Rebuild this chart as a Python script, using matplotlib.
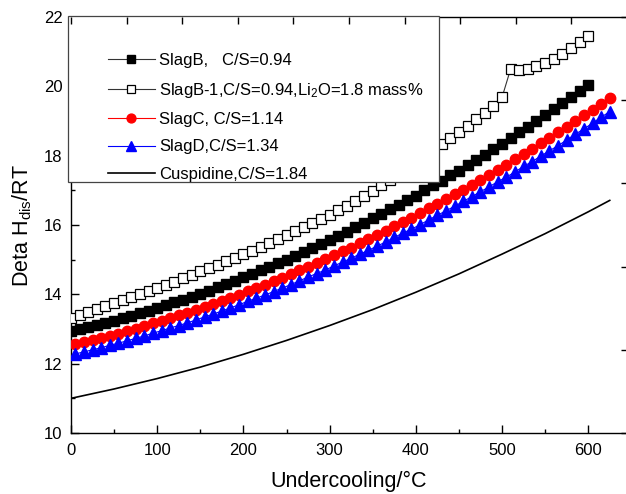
import numpy as np
import matplotlib
matplotlib.use("Agg")
import matplotlib.pyplot as plt
from matplotlib.patches import Rectangle
from matplotlib.ticker import MultipleLocator

plt.rcParams['font.family'] = ['Liberation Sans', 'DejaVu Sans']
plt.rcParams['mathtext.fontset'] = 'custom'
plt.rcParams['mathtext.rm'] = 'Liberation Sans'
plt.rcParams['mathtext.it'] = 'Liberation Sans:italic'

# ---------------- data ----------------
x_slagB = np.arange(0, 601, 10)
slagB = [12.93, 12.99, 13.05, 13.11, 13.18, 13.24, 13.31, 13.38, 13.45, 13.53,
         13.61, 13.68, 13.77, 13.85, 13.93, 14.02, 14.11, 14.20, 14.29, 14.39,
         14.49, 14.58, 14.69, 14.79, 14.89, 15.00, 15.11, 15.22, 15.34, 15.45,
         15.57, 15.69, 15.81, 15.93, 16.06, 16.19, 16.32, 16.45, 16.58, 16.72,
         16.85, 17.00, 17.14, 17.28, 17.43, 17.57, 17.72, 17.88, 18.03, 18.19,
         18.35, 18.51, 18.67, 18.83, 19.00, 19.17, 19.34, 19.51, 19.68, 19.86,
         20.04]

x_slagB1 = np.arange(0, 601, 10)
slagB1 = [13.33, 13.41, 13.50, 13.58, 13.67, 13.75, 13.84, 13.92, 14.01, 14.09,
          14.18, 14.27, 14.37, 14.46, 14.56, 14.66, 14.75, 14.85, 14.95, 15.05,
          15.15, 15.26, 15.37, 15.48, 15.60, 15.71, 15.83, 15.94, 16.06, 16.18,
          16.30, 16.43, 16.56, 16.69, 16.83, 16.98, 17.14, 17.30, 17.46, 17.63,
          17.80, 17.97, 18.15, 18.33, 18.51, 18.69, 18.87, 19.05, 19.24, 19.43,
          19.68, 20.50, 20.47, 20.49, 20.58, 20.68, 20.79, 20.94, 21.10, 21.27,
          21.45]

x_slagC = np.arange(5, 626, 10)
slagC = [12.56, 12.62, 12.68, 12.74, 12.81, 12.87, 12.94, 13.01, 13.08, 13.16,
         13.23, 13.31, 13.39, 13.47, 13.55, 13.64, 13.72, 13.81, 13.90, 13.99,
         14.09, 14.18, 14.28, 14.38, 14.48, 14.58, 14.69, 14.80, 14.90, 15.01,
         15.13, 15.24, 15.35, 15.47, 15.59, 15.71, 15.83, 15.96, 16.09, 16.21,
         16.34, 16.48, 16.61, 16.75, 16.88, 17.02, 17.16, 17.31, 17.45, 17.60,
         17.74, 17.89, 18.05, 18.20, 18.36, 18.51, 18.67, 18.83, 19.00, 19.16,
         19.33, 19.50, 19.67]

x_slagD = np.arange(5, 626, 10)
slagD = [12.28, 12.34, 12.40, 12.46, 12.53, 12.59, 12.66, 12.73, 12.80, 12.88,
         12.95, 13.03, 13.10, 13.18, 13.26, 13.35, 13.43, 13.52, 13.61, 13.70,
         13.80, 13.89, 13.98, 14.08, 14.18, 14.28, 14.39, 14.50, 14.60, 14.70,
         14.82, 14.93, 15.04, 15.16, 15.27, 15.39, 15.51, 15.64, 15.77, 15.88,
         16.01, 16.15, 16.28, 16.41, 16.54, 16.68, 16.82, 16.96, 17.10, 17.25,
         17.38, 17.53, 17.69, 17.83, 17.99, 18.14, 18.29, 18.45, 18.62, 18.77,
         18.94, 19.11, 19.27]

x_cusp = [0, 50, 100, 150, 200, 250, 300, 350, 400, 450, 500, 550, 600, 625]
cusp = [11.00, 11.27, 11.57, 11.90, 12.27, 12.67, 13.10, 13.56, 14.06, 14.59,
        15.16, 15.75, 16.38, 16.71]

labels = ["SlagB,   C/S=0.94",
          "SlagB-1,C/S=0.94,Li$_2$O=1.8 mass%",
          "SlagC, C/S=1.14",
          "SlagD,C/S=1.34",
          "Cuspidine,C/S=1.84"]

# ---------------- figure ----------------
W, H = 626, 494
fig = plt.figure(figsize=(W / 100, H / 100), dpi=100)
L, R, T, B = 71, 627, 17, 433
ax = fig.add_axes([L / W, 1 - B / H, (R - L) / W, (B - T) / H])

ax.plot(x_slagB, slagB, color='#333333', lw=0.8, marker='s', ms=7.2,
        mfc='black', mec='black', label=labels[0], zorder=3)
ax.plot(x_slagB1, slagB1, color='#333333', lw=0.8, marker='s', ms=6.8,
        mfc='white', mec='black', mew=0.9, label=labels[1], zorder=3)
ax.plot(x_slagC, slagC, color='red', lw=0.8, marker='o', ms=7.5,
        mfc='red', mec='red', label=labels[2], zorder=3)
ax.plot(x_slagD, slagD, color='blue', lw=0.8, marker='^', ms=8.0,
        mfc='blue', mec='blue', label=labels[3], zorder=3)
ax.plot(x_cusp, cusp, color='black', lw=1.2, label=labels[4], zorder=3)

ax.set_xlim(0, 645)
ax.set_ylim(10, 22)
ax.xaxis.set_major_locator(MultipleLocator(100))
ax.xaxis.set_minor_locator(MultipleLocator(50))
ax.yaxis.set_major_locator(MultipleLocator(2))
ax.yaxis.set_minor_locator(MultipleLocator(1))
ax.tick_params(which='both', direction='in', top=False, right=False,
               labelsize=12, width=1.0)
ax.tick_params(which='major', length=6)
ax.tick_params(which='minor', length=3)
ax.tick_params(axis='x', pad=7)
ax.tick_params(axis='y', pad=6)
for s in ax.spines.values():
    s.set_linewidth(1.0)
ax.spines['right'].set_visible(False)

ax.set_xlabel("Undercooling/°C", fontsize=15.5, labelpad=9.5)
ax.set_ylabel("Deta H$_{\\rm dis}$/RT", fontsize=15.5, labelpad=7)

# twin axes providing the top and right tick marks
axt = ax.twiny()
axt.set_xlim(0, 10)
axt.set_xticks(range(11))
axt.tick_params(axis='x', direction='in', length=5, width=1.0,
                labeltop=False, top=True)
for s in axt.spines.values():
    s.set_visible(False)
axr = ax.twinx()
axr.set_ylim(0, 5)
axr.set_yticks(range(6))
axr.tick_params(axis='y', direction='in', length=4, width=1.0,
                labelright=False, right=True)
for s in axr.spines.values():
    s.set_visible(False)

# legend box
bx0, bx1, by0, by1 = 68, 439, 16, 182
rect = Rectangle((bx0 / W, 1 - by1 / H), (bx1 - bx0) / W, (by1 - by0) / H,
                 transform=fig.transFigure, facecolor='white',
                 edgecolor='#444444', lw=0.9, zorder=4.5, clip_on=False)
ax.add_patch(rect)
leg = ax.legend(loc='upper left', bbox_to_anchor=(108 / W, 1 - 53 / H),
                bbox_transform=fig.transFigure, frameon=False, fontsize=12,
                handlelength=2.8, handletextpad=0.25, labelspacing=0.75,
                borderpad=0, borderaxespad=0, numpoints=1, markerscale=0.85)
leg.set_zorder(5)

fig.savefig("out.png", dpi=100)
